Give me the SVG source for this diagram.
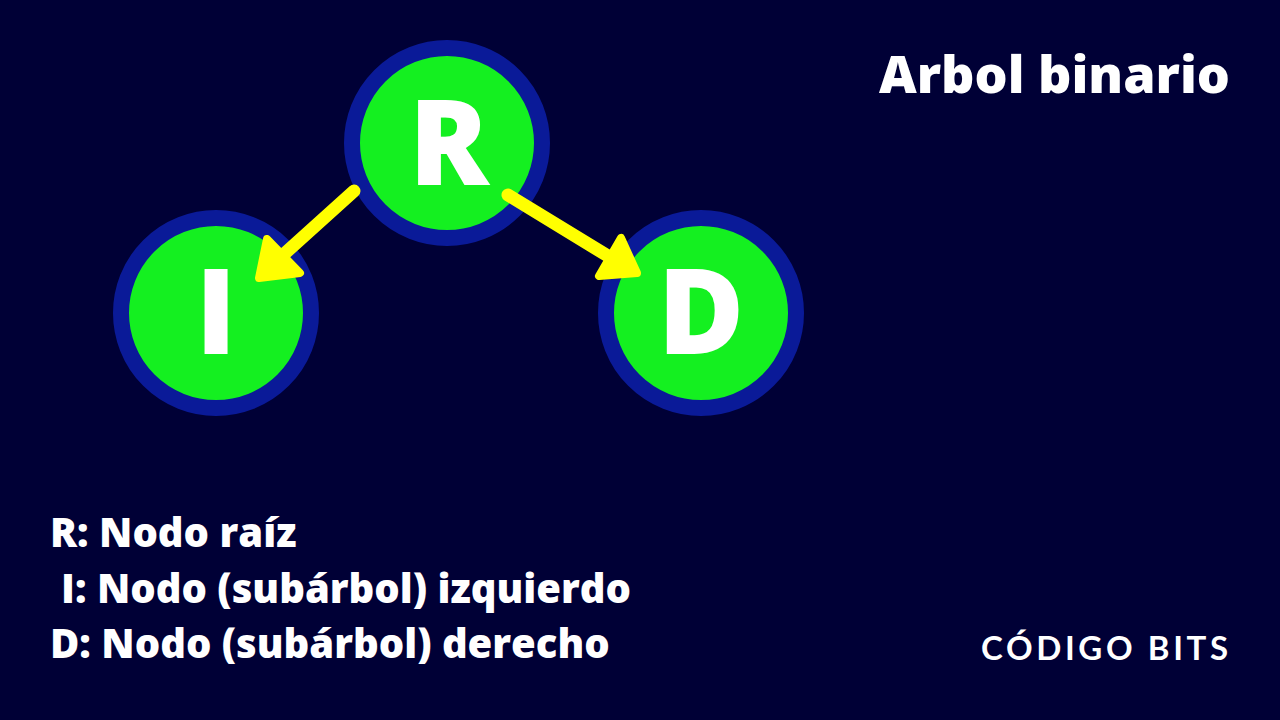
<svg xmlns="http://www.w3.org/2000/svg" width="1280" height="720" viewBox="0 0 1280 720">
<style>
.ring{fill:#14f020;stroke:#0a1a98;stroke-width:16}
.lbl{font-family:"Open Sans","Liberation Sans",sans-serif;font-weight:800;fill:#ffffff}
.node{font-size:118px;text-anchor:middle}
.arrow{stroke:#ffff00;stroke-width:13;stroke-linecap:round;fill:none}
.head{fill:#ffff00;stroke:#ffff00;stroke-width:8;stroke-linejoin:round}
</style>
<rect width="1280" height="720" fill="#000036"/>
<text class="lbl" x="1230" y="93" font-size="52" text-anchor="end">Arbol binario</text>
<g id="node-R">
<circle class="ring" cx="447" cy="143" r="95"/>
<text class="lbl node" x="449" y="185">R</text>
</g>
<g id="node-I">
<circle class="ring" cx="216" cy="313" r="95"/>
<text class="lbl node" x="216" y="354">I</text>
</g>
<g id="node-D">
<circle class="ring" cx="701" cy="313" r="95"/>
<text class="lbl node" x="701" y="354">D</text>
</g>
<g id="connectors">
<line class="arrow" x1="354" y1="191" x2="283" y2="255"/>
<polygon class="head" points="267,239 300,273 259,278"/>
<line class="arrow" x1="508" y1="195" x2="608" y2="256"/>
<polygon class="head" points="621,238 599,276 637,273"/>
</g>
<g id="legend">
<text class="lbl" x="50" y="547" font-size="40">R: Nodo raíz</text>
<text class="lbl" x="61" y="603" font-size="40">I: Nodo (subárbol) izquierdo</text>
<text class="lbl" x="50" y="658" font-size="40">D: Nodo (subárbol) derecho</text>
</g>
<text class="lbl" x="981" y="660" font-size="33" textLength="247" lengthAdjust="spacing" style="font-family:Lato,'Liberation Sans',sans-serif;font-weight:700">CÓDIGO BITS</text>
</svg>
